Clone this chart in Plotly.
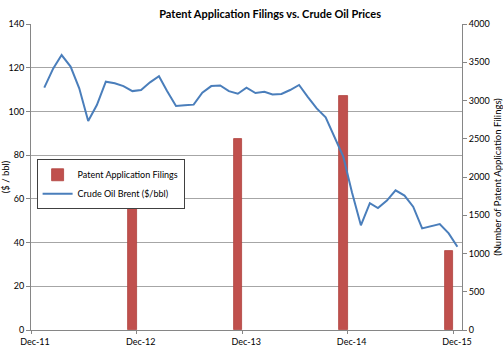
import pandas as pd
import plotly.graph_objects as go

# ---- data ----
patent_dates = ["2012-12-01", "2013-12-01", "2014-12-01", "2015-12-01"]
patent_filings = [1712, 2500, 3060, 1033]

brent_months = pd.date_range("2012-01-01", "2015-12-01", freq="MS") + pd.Timedelta(days=15)
brent_price = [
    110.9, 119.7, 125.8, 120.5, 110.6, 95.6, 102.9, 113.6, 112.9, 111.6, 109.3, 109.8,
    113.3, 116.1, 109.3, 102.5, 102.8, 103.1, 108.6, 111.6, 111.9, 109.3, 108.1, 110.9,
    108.4, 109.0, 107.8, 108.0, 109.8, 112.1, 106.7, 101.4, 97.3, 88.2, 79.3, 63.0,
    47.9, 58.0, 55.8, 59.2, 63.9, 61.5, 56.4, 46.5, 47.6, 48.5, 44.2, 38.1,
]

left_ticks = [0, 20, 40, 60, 80, 100, 120, 140]
right_ticks = [0, 500, 1000, 1500, 2000, 2500, 3000, 3500, 4000]

FONT = "Lato"
bar_width_ms = 29 * 24 * 3600 * 1000

fig = go.Figure()
fig.add_trace(go.Bar(
    x=patent_dates, y=patent_filings, name="Patent Application Filings",
    width=[bar_width_ms] * len(patent_dates), offset=[-bar_width_ms] * len(patent_dates),
    marker=dict(color="#C0504D", line=dict(color="#B0413E", width=0.8)),
    yaxis="y",
))
fig.add_trace(go.Scatter(
    x=brent_months, y=brent_price, name="Crude Oil Brent ($/bbl)",
    mode="lines", line=dict(color="#4A7EBB", width=2),
    yaxis="y2",
))

fig.update_layout(
    width=503, height=348,
    margin=dict(l=31, r=41, t=24, b=18, autoexpand=False),
    paper_bgcolor="white", plot_bgcolor="white",
    font=dict(family=FONT, size=9, color="#000000"),
    title=dict(text="<b>Patent Application Filings vs. Crude Oil Prices</b>",
               x=0.537, xref="container", xanchor="center",
               y=0.96, yref="container", yanchor="middle",
               font=dict(family=FONT, size=11, color="#000000")),
    showlegend=True,
    legend=dict(x=0.013, y=0.558, xanchor="left", yanchor="top",
                bgcolor="white", bordercolor="#404040", borderwidth=1,
                font=dict(family=FONT, size=9), traceorder="normal",
                itemwidth=30, tracegroupgap=0),
    bargap=0,
    xaxis=dict(
        type="date", range=["2011-12-01", "2016-01-01"],
        tick0="2011-12-01", dtick="M12", tickformat="%b-%y",
        showgrid=False, showline=True, linecolor="#868686", linewidth=1,
        ticks="outside", ticklen=3, tickcolor="#868686",
        ticklabelshift=4, zeroline=False, automargin=False,
    ),
    yaxis=dict(
        side="right", range=[0, 4000], tickvals=right_ticks,
        showgrid=False, showline=True, linecolor="#868686", linewidth=1,
        ticks="outside", ticklen=4, tickcolor="#868686", zeroline=False,
        automargin=False,
        title=dict(text="(Number of Patent Application Filings)", font=dict(size=9.5), standoff=6),
    ),
    yaxis2=dict(
        overlaying="y", side="left", range=[0, 140], tickvals=left_ticks,
        showgrid=True, gridcolor="#A6A6A6", gridwidth=1,
        showline=True, linecolor="#868686", linewidth=1,
        ticks="outside", ticklen=4, tickcolor="#868686", zeroline=False,
        automargin=False,
        title=dict(text="($ / bbl)", font=dict(size=9.5), standoff=4),
    ),
)

fig.write_html("out.html")
